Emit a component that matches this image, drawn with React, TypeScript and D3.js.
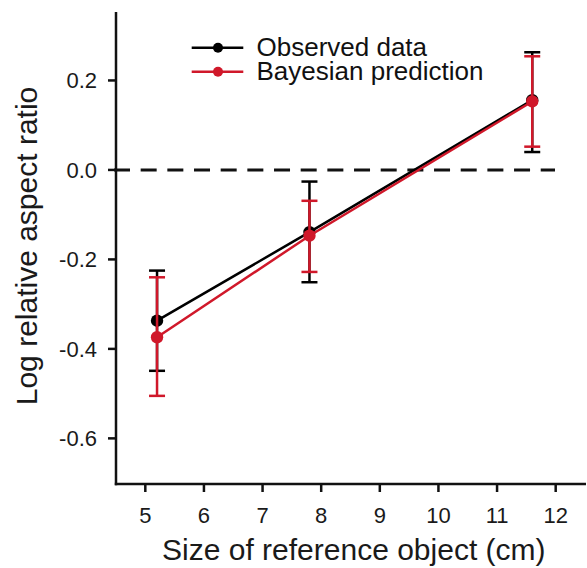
import React from "react";
import * as d3 from "d3";

const sizes = [5.2, 7.8, 11.6];
const observedMean = [-0.337, -0.139, 0.156];
const observedLow = [-0.449, -0.251, 0.04];
const observedHigh = [-0.225, -0.026, 0.263];
const predictedMean = [-0.374, -0.147, 0.153];
const predictedLow = [-0.505, -0.228, 0.052];
const predictedHigh = [-0.24, -0.069, 0.254];
const xTicks = [5, 6, 7, 8, 9, 10, 11, 12];
const yTicks = [0.2, 0.0, -0.2, -0.4, -0.6];
const legendLabels = ["Observed data", "Bayesian prediction"];

const RED = "#d0182a";
const BLACK = "#000000";
const FONT = "'Liberation Sans', Arial, Helvetica, sans-serif";

export default function App() {
  const W = 587;
  const H = 568;
  const x = d3.scaleLinear().domain([4.5, 12.5]).range([116, 585]);
  const y = d3.scaleLinear().domain([-0.702, 0.353]).range([484, 12]);

  const series = [
    { color: BLACK, mean: observedMean, low: observedLow, high: observedHigh },
    { color: RED, mean: predictedMean, low: predictedLow, high: predictedHigh },
  ];

  const line = (vals: number[]) =>
    d3
      .line<number>()
      .x((_, i) => x(sizes[i]))
      .y((v) => y(v))(vals) as string;

  const x0 = x.range()[0];
  const yBottom = y.range()[0];
  const yTop = y.range()[1];
  const capHalf = 8;

  return (
    <svg
      width={W}
      height={H}
      style={{ position: "absolute", left: 0, top: 0, background: "#fff" }}
      fontFamily={FONT}
    >
      {/* zero reference line */}
      <line
        x1={x0 - 2}
        x2={555}
        y1={y(0)}
        y2={y(0)}
        stroke="#111"
        strokeWidth={3}
        strokeDasharray="16 10.67"
      />

      {/* axes */}
      <line x1={x0} x2={x0} y1={yTop} y2={yBottom + 1.2} stroke="#111" strokeWidth={2.5} />
      <line x1={x0 - 1.2} x2={586} y1={yBottom} y2={yBottom} stroke="#111" strokeWidth={2.5} />
      {yTicks.map((t) => (
        <g key={"y" + t}>
          <line x1={x0 - 8} x2={x0} y1={y(t)} y2={y(t)} stroke="#111" strokeWidth={2.5} />
          <text
            x={x0 - 19}
            y={y(t) + 8}
            textAnchor="end"
            fontSize={22}
            fill="#1a1a1a"
          >
            {t.toFixed(1)}
          </text>
        </g>
      ))}
      {xTicks.map((t) => (
        <g key={"x" + t}>
          <line x1={x(t)} x2={x(t)} y1={yBottom} y2={yBottom + 8} stroke="#111" strokeWidth={2.5} />
          <text x={x(t)} y={522.5} textAnchor="middle" fontSize={22} fill="#1a1a1a">
            {t}
          </text>
        </g>
      ))}

      {/* axis titles */}
      <text x={353.8} y={560} textAnchor="middle" fontSize={30} fill="#1a1a1a">
        Size of reference object (cm)
      </text>
      <text
        transform={`translate(36.5, 246) rotate(-90)`}
        textAnchor="middle"
        fontSize={30}
        fill="#1a1a1a"
      >
        Log relative aspect ratio
      </text>

      {/* series */}
      {series.map((s, si) => (
        <g key={"s" + si}>
          <path d={line(s.mean)} fill="none" stroke={s.color} strokeWidth={2.5} />
          {sizes.map((sz, i) => (
            <g key={i}>
              <line
                x1={x(sz)}
                x2={x(sz)}
                y1={y(s.low[i])}
                y2={y(s.high[i])}
                stroke={s.color}
                strokeWidth={2.5}
              />
              <line
                x1={x(sz) - capHalf}
                x2={x(sz) + capHalf}
                y1={y(s.low[i])}
                y2={y(s.low[i])}
                stroke={s.color}
                strokeWidth={2.5}
              />
              <line
                x1={x(sz) - capHalf}
                x2={x(sz) + capHalf}
                y1={y(s.high[i])}
                y2={y(s.high[i])}
                stroke={s.color}
                strokeWidth={2.5}
              />
              <circle cx={x(sz)} cy={y(s.mean[i])} r={6.2} fill={s.color} />
            </g>
          ))}
        </g>
      ))}

      {/* legend */}
      {legendLabels.map((lab, i) => {
        const ly = 47.7 + i * 24;
        const c = i === 0 ? BLACK : RED;
        return (
          <g key={lab}>
            <line x1={191.7} x2={243.3} y1={ly} y2={ly} stroke={c} strokeWidth={2.5} />
            <circle cx={218} cy={ly} r={5} fill={c} />
            <text x={256.5} y={ly + 8.3} fontSize={26} fill="#111">
              {lab}
            </text>
          </g>
        );
      })}
    </svg>
  );
}
